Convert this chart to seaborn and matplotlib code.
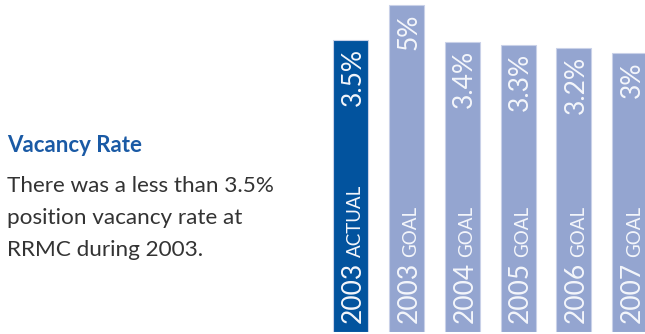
import numpy as np
import pandas as pd
import matplotlib
matplotlib.use("Agg")
import matplotlib.pyplot as plt
import seaborn as sns

# ---- data ----
years = ["2003", "2003", "2004", "2005", "2006", "2007"]
kinds = ["ACTUAL", "GOAL", "GOAL", "GOAL", "GOAL", "GOAL"]
values = [3.5, 5.0, 3.4, 3.3, 3.2, 3.0]
value_labels = ["3.5%", "5%", "3.4%", "3.3%", "3.2%", "3%"]
title = "Vacancy Rate"
body_lines = ["There was a less than 3.5%", "position vacancy rate at", "RRMC during 2003."]

categories = [f"{y} {k}" for y, k in zip(years, kinds)]
df = pd.DataFrame({"category": categories, "value": values, "kind": kinds})

DARK = "#02539E"
LIGHT = "#94A5D0"
bar_colors = {c: (DARK if k == "ACTUAL" else LIGHT) for c, k in zip(categories, kinds)}

sns.set_theme(style="white")
plt.rcParams["font.family"] = ["Lato", "DejaVu Sans"]

fig = plt.figure(figsize=(6.45, 3.34), dpi=100)
ax = fig.add_axes([322.8 / 645, 2 / 334, 322.2 / 645, 332 / 334])

sns.barplot(data=df, x="category", y="value", hue="category", palette=bar_colors,
            legend=False, width=0.627, ax=ax, edgecolor="#C9D1E8", linewidth=0.8,
            saturation=1)

p = 0.31
ax.set_yscale("function", functions=(lambda v: np.power(np.clip(v, 0, None), p),
                                     lambda v: np.power(np.clip(v, 0, None), 1 / p)))
ax.set_ylim(0, 5.27)
ax.set_xlim(-0.5, 5.274)
ax.axis("off")

txt_col = "#F4F6FB"
for i, (yr, kd, v, lab) in enumerate(zip(years, kinds, values, value_labels)):
    ax.annotate(lab, xy=(i, v), xytext=(10, -8), textcoords="offset pixels",
                rotation=90, rotation_mode="anchor", ha="right", va="baseline",
                fontsize=19, color=txt_col, fontweight="normal")
    yt = ax.annotate(yr, xy=(i, 0), xytext=(10, 9), textcoords="offset pixels",
                     rotation=90, rotation_mode="anchor", ha="left", va="baseline",
                     fontsize=19, color=txt_col, fontweight="normal")
    ax.annotate(kd, xy=(i, 1.0), xycoords=("data", yt), xytext=(10, 5),
                textcoords="offset pixels", rotation=90, rotation_mode="anchor",
                ha="left", va="baseline", fontsize=13.5, color=txt_col,
                fontweight="normal")

fig.text(7 / 645, 1 - 151.7 / 334, title, fontsize=16, fontweight="bold",
         color="#1A5AA5", ha="left", va="baseline")
for k, line in enumerate(body_lines):
    fig.text(7 / 645, 1 - (191.5 + 32 * k) / 334, line, fontsize=16.2,
             color="#333333", ha="left", va="baseline")

fig.savefig("out.png", dpi=100)
